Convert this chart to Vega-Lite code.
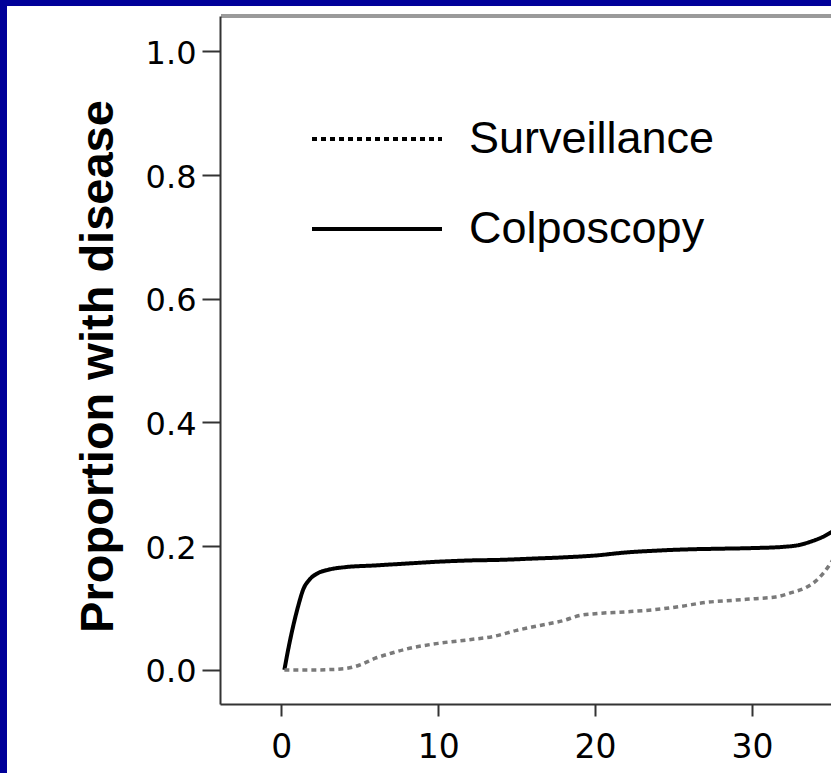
{
  "$schema": "https://vega.github.io/schema/vega-lite/v6.json",
  "width": 611,
  "height": 688,
  "autosize": "none",
  "padding": {"left": 220, "top": 16, "right": 0, "bottom": 69},
  "background": "#000099",
  "config": {
    "view": {"stroke": null},
    "axis": {"grid": false, "domainColor": "#333333", "domainWidth": 2, "tickColor": "#333333", "tickWidth": 2, "labelColor": "#000000", "labelFont": "DejaVu Sans"}
  },
  "datasets": {
    "curves": [
      {"time": 0.2, "prop": 0.0, "series": "Colposcopy"},
      {"time": 0.5, "prop": 0.04, "series": "Colposcopy"},
      {"time": 0.8, "prop": 0.075, "series": "Colposcopy"},
      {"time": 1.1, "prop": 0.105, "series": "Colposcopy"},
      {"time": 1.4, "prop": 0.13, "series": "Colposcopy"},
      {"time": 1.8, "prop": 0.146, "series": "Colposcopy"},
      {"time": 2.3, "prop": 0.156, "series": "Colposcopy"},
      {"time": 3.0, "prop": 0.162, "series": "Colposcopy"},
      {"time": 4.0, "prop": 0.166, "series": "Colposcopy"},
      {"time": 6.0, "prop": 0.169, "series": "Colposcopy"},
      {"time": 8.0, "prop": 0.172, "series": "Colposcopy"},
      {"time": 10, "prop": 0.175, "series": "Colposcopy"},
      {"time": 12, "prop": 0.177, "series": "Colposcopy"},
      {"time": 14, "prop": 0.178, "series": "Colposcopy"},
      {"time": 16, "prop": 0.18, "series": "Colposcopy"},
      {"time": 18, "prop": 0.182, "series": "Colposcopy"},
      {"time": 20, "prop": 0.185, "series": "Colposcopy"},
      {"time": 22, "prop": 0.19, "series": "Colposcopy"},
      {"time": 24, "prop": 0.193, "series": "Colposcopy"},
      {"time": 26, "prop": 0.195, "series": "Colposcopy"},
      {"time": 28, "prop": 0.196, "series": "Colposcopy"},
      {"time": 30, "prop": 0.197, "series": "Colposcopy"},
      {"time": 32, "prop": 0.199, "series": "Colposcopy"},
      {"time": 33, "prop": 0.202, "series": "Colposcopy"},
      {"time": 33.8, "prop": 0.208, "series": "Colposcopy"},
      {"time": 34.5, "prop": 0.215, "series": "Colposcopy"},
      {"time": 35.2, "prop": 0.225, "series": "Colposcopy"},
      {"time": 0.2, "prop": 0.0, "series": "Surveillance"},
      {"time": 2, "prop": 0.0, "series": "Surveillance"},
      {"time": 4, "prop": 0.002, "series": "Surveillance"},
      {"time": 5, "prop": 0.008, "series": "Surveillance"},
      {"time": 6, "prop": 0.019, "series": "Surveillance"},
      {"time": 7, "prop": 0.027, "series": "Surveillance"},
      {"time": 8, "prop": 0.034, "series": "Surveillance"},
      {"time": 10, "prop": 0.043, "series": "Surveillance"},
      {"time": 12, "prop": 0.049, "series": "Surveillance"},
      {"time": 13.5, "prop": 0.054, "series": "Surveillance"},
      {"time": 15, "prop": 0.064, "series": "Surveillance"},
      {"time": 16.5, "prop": 0.072, "series": "Surveillance"},
      {"time": 18, "prop": 0.08, "series": "Surveillance"},
      {"time": 19, "prop": 0.088, "series": "Surveillance"},
      {"time": 20, "prop": 0.091, "series": "Surveillance"},
      {"time": 22, "prop": 0.094, "series": "Surveillance"},
      {"time": 24, "prop": 0.098, "series": "Surveillance"},
      {"time": 25.5, "prop": 0.103, "series": "Surveillance"},
      {"time": 27, "prop": 0.109, "series": "Surveillance"},
      {"time": 29, "prop": 0.113, "series": "Surveillance"},
      {"time": 30, "prop": 0.115, "series": "Surveillance"},
      {"time": 31.5, "prop": 0.118, "series": "Surveillance"},
      {"time": 32.5, "prop": 0.125, "series": "Surveillance"},
      {"time": 33.5, "prop": 0.134, "series": "Surveillance"},
      {"time": 34.2, "prop": 0.147, "series": "Surveillance"},
      {"time": 34.8, "prop": 0.165, "series": "Surveillance"},
      {"time": 35.2, "prop": 0.18, "series": "Surveillance"}
    ]
  },
  "data": {"name": "curves"},
  "layer": [
    {
      "mark": {"type": "rect", "color": "#ffffff", "clip": false},
      "encoding": {
        "x": {"datum": -17.45, "type": "quantitative", "scale": {"domain": [-3.9, 35.03], "nice": false, "zero": false}},
        "x2": {"datum": 40},
        "y": {"datum": 1.072, "type": "quantitative", "scale": {"domain": [-0.055, 1.057], "nice": false, "zero": false}},
        "y2": {"datum": -0.2}
      }
    },
    {
      "mark": {"type": "rule", "color": "#9a9a9a", "strokeWidth": 3},
      "encoding": {
        "x": {"datum": -3.8, "type": "quantitative"},
        "x2": {"datum": 35.03},
        "y": {"datum": 1.057, "type": "quantitative"}
      }
    },
    {
      "mark": {"type": "line", "clip": true, "interpolate": "monotone"},
      "encoding": {
        "x": {
          "field": "time", "type": "quantitative",
          "scale": {"domain": [-3.9, 35.03], "nice": false, "zero": false},
          "axis": {"zindex": 5, "title": null, "values": [0, 10, 20, 30], "tickSize": 12, "labelFontSize": 33, "labelPadding": 15, "labelFlush": false}
        },
        "y": {
          "field": "prop", "type": "quantitative",
          "scale": {"domain": [-0.055, 1.057], "nice": false, "zero": false},
          "axis": {"zindex": 5, "title": "Proportion with disease", "values": [0, 0.2, 0.4, 0.6, 0.8, 1.0], "format": ".1f", "tickSize": 18, "labelFontSize": 32, "labelPadding": 6, "labelOffset": 2, "labelFlush": false,
                   "titleFont": "Liberation Sans", "titleFontWeight": "bold", "titleFontSize": 47, "titleColor": "#000000", "titleAngle": -90, "titleBaseline": "alphabetic", "titleX": -108, "titleY": 350, "titleAlign": "center"}
        },
        "strokeDash": {
          "field": "series", "type": "nominal",
          "scale": {"domain": ["Surveillance", "Colposcopy"], "range": [[5, 4], [1, 0]]},
          "legend": {"zindex": 5, "title": null, "orient": "none", "legendX": 90, "legendY": 56, "symbolType": "stroke", "symbolSize": 16900, "symbolStrokeWidth": 4, "symbolStrokeColor": "#000000", "labelFont": "Liberation Sans", "labelFontSize": 45, "labelColor": "#000000", "labelOffset": 25, "labelLimit": 0, "rowPadding": -16}
        },
        "color": {
          "condition": {"test": "datum.series === 'Surveillance'", "value": "#7a7a7a"},
          "value": "#000000"
        },
        "strokeWidth": {
          "condition": {"test": "datum.series === 'Surveillance'", "value": 3.5},
          "value": 4
        }
      }
    }
  ]
}
